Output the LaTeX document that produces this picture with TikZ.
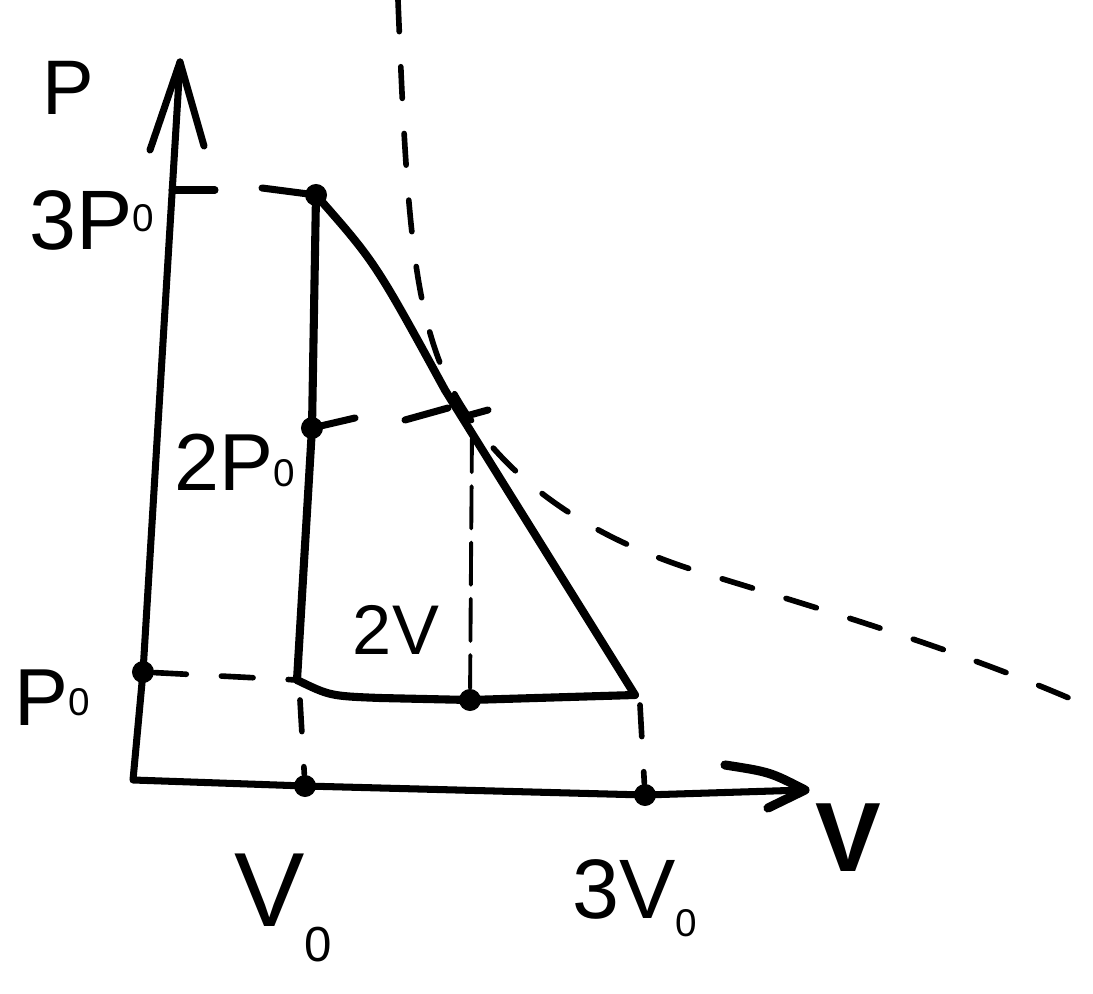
\documentclass[tikz,border=0pt]{standalone}
\usepackage{fontspec}
\setmainfont{Liberation Sans}
\newcommand{\lowsub}[2]{\raisebox{#1}{\fontsize{#2}{#2}\selectfont 0}}
\begin{document}
\begin{tikzpicture}[x=0.01cm,y=-0.01cm, line cap=round, line join=round,
  ink/.style={line width=2.3pt},
  axisline/.style={line width=2pt},
  dsh/.style={line width=1.6pt, dash pattern=on 9pt off 10pt},
  thin dsh/.style={line width=1.1pt, dash pattern=on 12pt off 4pt},
  dot/.style={circle, fill=black, inner sep=0pt, minimum size=0.22cm},
  lab/.style={inner sep=0pt}]
\useasboundingbox (0,0) rectangle (1093,994);

% key points
\coordinate (O) at (133,780);
\coordinate (PT) at (180,62);
\coordinate (VT) at (805,790);
\node[dot] (P0d) at (143,672) {};
\node[dot] (A) at (316,195) {};
\node[dot] (M) at (312,428) {};
\coordinate (B) at (297,680);
\coordinate (C) at (635,695);
\node[dot] (D) at (470,700) {};
\node[dot] (V0d) at (305,786) {};
\node[dot] (V3d) at (645,795) {};
\coordinate (Vtop) at (300,700);
\coordinate (Ctop) at (640,705);

% isotherm (dashed curve)
\coordinate (I0) at (398,0);
\coordinate (I1) at (445,375);
\coordinate (I2) at (700,572);
\coordinate (I3) at (1085,705);
\draw[dsh] (I0) .. controls (406,200) and (412,300) .. (I1)
  .. controls (490,470) and (580,535) .. (I2)
  .. controls (830,612) and (960,650) .. (I3);

% axes
\draw[axisline] (PT) -- (P0d.center) -- (O) -- (V0d.center) -- (V3d.center) -- (VT);
\coordinate (PL) at (150,150);
\coordinate (PR) at (204,146);
\draw[axisline] (PL) -- (PT) -- (PR);
\coordinate (VU) at (725,765);
\coordinate (VD) at (768,808);
\draw[line width=2.6pt] (VU) .. controls (770,772) .. (VT) -- (VD);

% ticks and dashed guides
\draw[axisline] (172,190) -- (215,190);
\draw[axisline] (262,188) -- (A.center);
\draw[dsh] (P0d) -- (B);
\draw[axisline] (M.center) -- (355,418);
\draw[axisline] (405,420) -- (448,408);
\draw[axisline] (470,415) -- (488,410);
\draw[dsh] (Vtop) -- (V0d);
\draw[dsh] (Ctop) -- (V3d);
\draw[thin dsh] (472,430) -- (D);

% cycle
\draw[ink] (A.center) -- (M.center) -- (B);
\draw[ink] (B) .. controls (330,696) .. (380,698) -- (D.center) -- (C);
\draw[ink] (A.center) .. controls (375,262) .. (445,390) -- (C);

% labels
\node[lab, font=\fontsize{22}{22}\selectfont] (Plab) at (68,88) {P};
\node[lab, font=\fontsize{24}{24}\selectfont] (L3P) at (92,220) {3P\lowsub{5pt}{11}};
\node[lab, font=\fontsize{23}{23}\selectfont] (L2P) at (235,462) {2P\lowsub{1pt}{11}};
\node[lab, font=\fontsize{23}{23}\selectfont] (LP) at (52,698) {P\lowsub{3pt}{11}};
\node[lab, font=\fontsize{20}{20}\selectfont] (L2V) at (396,630) {2V};
\node[lab, font=\fontsize{30}{30}\selectfont] (LV0) at (283,908) {V\lowsub{-10pt}{14}};
\node[lab, font=\fontsize{24}{24}\selectfont] (L3V) at (635,898) {3V\lowsub{-5pt}{11}};
\node[lab, font=\fontsize{28}{28}\selectfont\bfseries] (LV) at (848,838) {V};
\end{tikzpicture}
\end{document}
